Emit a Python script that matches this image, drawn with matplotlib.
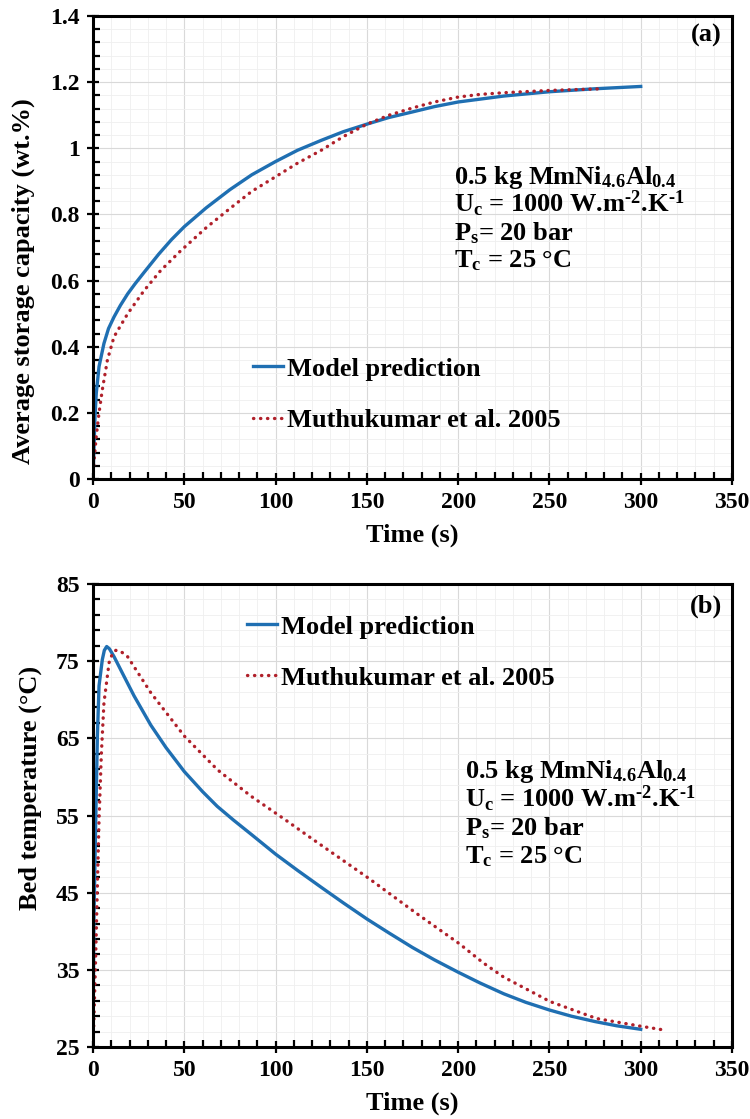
import numpy as np
import matplotlib
matplotlib.use("Agg")
import matplotlib.pyplot as plt
from matplotlib.ticker import FuncFormatter

"""
Hydrogen absorption in 0.5 kg MmNi4.6Al0.4: model vs Muthukumar et al. 2005.
(a) average storage capacity, (b) bed temperature, both against time.
"""

# ---- data ----
# (a) storage capacity (wt.%)
t_cap_model = [0, 0.5, 1.1, 1.8, 3.3, 6, 8.5, 11.5, 15, 19, 23, 28, 36, 43,
               50, 62, 75, 87, 100, 112, 125, 137, 150, 162, 175, 187, 200,
               225, 250, 275, 300]
cap_model = [0, 0.09, 0.19, 0.26, 0.34, 0.41, 0.455, 0.49, 0.525, 0.56, 0.59,
             0.625, 0.68, 0.724, 0.763, 0.82, 0.875, 0.92, 0.96, 0.994, 1.024,
             1.05, 1.073, 1.093, 1.11, 1.126, 1.14, 1.158, 1.171, 1.18, 1.187]
t_cap_exp = [0, 0.5, 1.8, 3.3, 5.1, 7.9, 11.5, 19, 28, 37, 48, 62, 75, 87,
             100, 112, 125, 137, 150, 162, 175, 187, 200, 212, 225, 250, 279]
cap_exp = [0, 0.05, 0.13, 0.20, 0.27, 0.36, 0.43, 0.50, 0.57, 0.63, 0.69,
           0.76, 0.818, 0.87, 0.914, 0.955, 0.994, 1.035, 1.073, 1.1, 1.122,
           1.14, 1.155, 1.163, 1.168, 1.175, 1.18]

# (b) bed temperature (°C)
t_temp_model = [0, 0.5, 1.5, 2.4, 3.3, 5.1, 6.2, 7.5, 9, 11.5, 16, 22.5, 31.7,
                40, 50, 60, 68, 77, 87, 100, 112, 125, 137, 150, 162, 175,
                187, 200, 212, 225, 237, 250, 262, 275, 287, 300]
temp_model = [25.5, 41.4, 54.4, 65.3, 71.8, 75.2, 76.4, 76.9, 76.6, 75.6, 73.5,
              70.5, 66.7, 63.8, 60.7, 58.1, 56.2, 54.4, 52.5, 50.0, 47.9, 45.7,
              43.7, 41.6, 39.8, 37.9, 36.3, 34.7, 33.3, 31.9, 30.8, 29.8, 29.0,
              28.3, 27.75, 27.3]
t_temp_exp = [0, 0.5, 1.5, 2.4, 3.3, 4.6, 6, 8.8, 10.5, 12.5, 15, 18.9, 31.7,
              50, 68.3, 86.6, 105, 118.7, 150.8, 177.3, 200.6, 213.8, 224.7,
              250.3, 275.8, 300, 313]
temp_exp = [25, 28.5, 37.1, 45.8, 54.4, 63.1, 69.6, 74.8, 75.9, 76.4, 76.3,
            75.6, 70.9, 65.3, 60.9, 57.5, 54.5, 52.2, 46.9, 42.3, 38.4, 35.9,
            34.1, 30.9, 28.7, 27.7, 27.2]

labels = ["Model prediction", "Muthukumar et al. 2005"]
conditions = [r"0.5 kg MmNi$_{\mathbf{4.6}}$Al$_{\mathbf{0.4}}$",
              "U$_{\\mathbf{c}}$ = 1000 W.m$^{\\mathbf{\u20102}}$.K$^{\\mathbf{\u20101}}$",
              r"P$_{\mathbf{s}}$= 20 bar",
              r"T$_{\mathbf{c}}$ = 25 °C"]

BLUE = "#1f6fb2"
RED = "#b0202a"

plt.rcParams["font.family"] = ["Liberation Serif", "DejaVu Serif"]
plt.rcParams["font.weight"] = "bold"
plt.rcParams["mathtext.fontset"] = "custom"
plt.rcParams["mathtext.rm"] = "Liberation Serif:bold"
plt.rcParams["mathtext.bf"] = "Liberation Serif:bold"
plt.rcParams["mathtext.it"] = "Liberation Serif:bold"

FS = 19
TICK_FS = 17


def style_axes(ax, yticks, yminor):
    ax.set_xlim(0, 350)
    ax.set_ylim(yticks[0], yticks[-1])
    ax.set_xticks(np.arange(0, 351, 50))
    ax.set_xticks(np.arange(0, 351, 10), minor=True)
    ax.set_yticks(yticks)
    ax.set_yticks(yminor, minor=True)
    ax.yaxis.set_major_formatter(FuncFormatter(lambda v, p: f"{round(v, 6):g}"))
    ax.tick_params(which="major", direction="inout", length=9, width=1.6,
                   labelsize=TICK_FS, pad=5)
    ax.tick_params(which="minor", direction="in", length=5, width=1.6)
    ax.tick_params(top=False, right=False, which="both")
    for side in ["left", "bottom", "top", "right"]:
        ax.spines[side].set_linewidth(2.2)
    ax.grid(which="major", color="#d9d9d9", lw=0.8)
    ax.grid(which="minor", color="#efefef", lw=0.6)
    ax.set_axisbelow(True)
    for lab in ax.get_xticklabels() + ax.get_yticklabels():
        lab.set_fontweight("bold")


def draw_curves(ax, tm, ym, te, ye):
    ax.plot(tm, ym, color=BLUE, lw=2.4, label=labels[0])
    ax.plot(te, ye, color=RED, lw=2.4, linestyle=(0, (0.1, 2.0)),
            dash_capstyle="round", label=labels[1])


def draw_conditions(ax, x, ys):
    for txt, y in zip(conditions, ys):
        ax.text(x, y, txt, transform=ax.transAxes, fontsize=FS,
                fontweight="bold", va="baseline", ha="left")


fig = plt.figure(figsize=(7.5, 11.19), dpi=100)

# (a) storage capacity
ax1 = fig.add_axes([0.124, 0.5719, 0.852, 0.4138])
draw_curves(ax1, t_cap_model, cap_model, t_cap_exp, cap_exp)
style_axes(ax1, np.round(np.arange(0, 1.41, 0.2), 2), np.arange(0, 1.41, 0.04))
ax1.set_xlabel("Time (s)", fontsize=FS, fontweight="bold", va="top")
ax1.set_ylabel("Average storage capacity (wt.%)", fontsize=FS, fontweight="bold")
ax1.xaxis.set_label_coords(0.5, -0.097)
ax1.yaxis.set_label_coords(-0.09, 0.428)
ax1.legend(loc="upper left", bbox_to_anchor=(0.25, 0.263), frameon=False,
           fontsize=FS, handlelength=1.15, handletextpad=0.15,
           labelspacing=1.05, borderpad=0, borderaxespad=0)
draw_conditions(ax1, 0.565, [0.637, 0.576, 0.516, 0.456])
ax1.text(0.984, 0.944, "(a)", transform=ax1.transAxes, fontsize=FS,
         fontweight="bold", ha="right", va="baseline")

# (b) bed temperature
ax2 = fig.add_axes([0.124, 0.0643, 0.852, 0.4138])
draw_curves(ax2, t_temp_model, temp_model, t_temp_exp, temp_exp)
style_axes(ax2, np.arange(25, 86, 10), np.arange(25, 86, 2))
ax2.set_xlabel("Time (s)", fontsize=FS, fontweight="bold", va="top")
ax2.set_ylabel("Bed temperature (°C)", fontsize=FS, fontweight="bold")
ax2.xaxis.set_label_coords(0.5, -0.097)
ax2.yaxis.set_label_coords(-0.08, 0.56)
ax2.legend(loc="upper left", bbox_to_anchor=(0.241, 0.933), frameon=False,
           fontsize=FS, handlelength=1.15, handletextpad=0.15,
           labelspacing=1.05, borderpad=0, borderaxespad=0)
draw_conditions(ax2, 0.582, [0.581, 0.518, 0.458, 0.397])
ax2.text(0.984, 0.938, "(b)", transform=ax2.transAxes, fontsize=FS,
         fontweight="bold", ha="right", va="baseline")

fig.savefig("out.png", dpi=100)
